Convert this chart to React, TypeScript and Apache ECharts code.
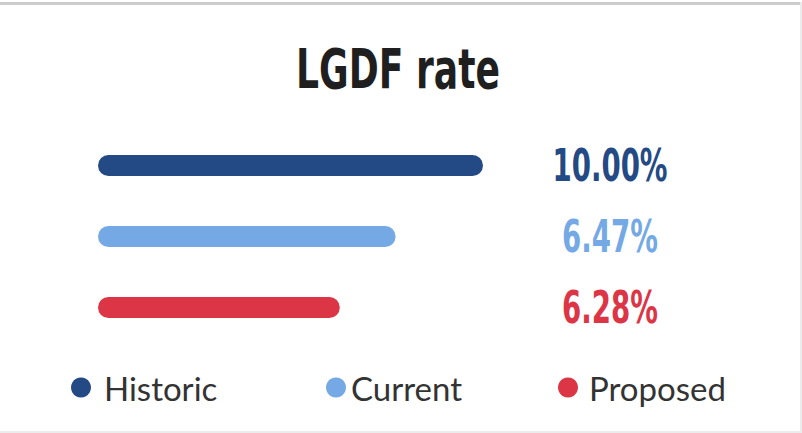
import React, { useEffect, useRef } from 'react';
import * as echarts from 'echarts';

const titleText = 'LGDF rate';
const categories = ['Historic', 'Current', 'Proposed'];
// bar lengths as drawn in the picture, on a 0–10 scale
const barValues = [10, 7.73, 6.28];
// printed rate labels
const rateLabels = ['10.00%', '6.47%', '6.28%'];
const colors = ['#234a84', '#74a9e5', '#dc3546'];

const TITLE_FONT = 'bold 56px "DejaVu Sans Condensed", "DejaVu Sans", sans-serif';
const LABEL_FONT = 'bold 44px "DejaVu Sans Condensed", "DejaVu Sans", sans-serif';

function measure(text: string, font: string): number {
  const ctx = document.createElement('canvas').getContext('2d');
  if (!ctx) return text.length * 20;
  ctx.font = font;
  return ctx.measureText(text).width;
}

export default function App() {
  const ref = useRef<HTMLDivElement>(null);
  useEffect(() => {
    if (!ref.current) return;
    const chart = echarts.init(ref.current, null, { renderer: 'svg' });
    const titleScale = 204 / measure(titleText, TITLE_FONT);
    const labelScale = 115 / measure(rateLabels[0], LABEL_FONT);

    const series: any[] = categories.map((name, i) => ({
      name,
      type: 'bar',
      stack: 'rate',
      barWidth: 21,
      itemStyle: { color: colors[i], borderRadius: 10.5 },
      data: categories.map((_, j) => (j === i ? barValues[i] : '-')),
      silent: true,
    }));
    series.push({
      name: 'labels',
      type: 'custom',
      silent: true,
      data: rateLabels.map((_, i) => [0, i]),
      encode: { x: 0, y: 1 },
      renderItem: (params: any, api: any) => {
        const idx = api.value(1);
        const y = api.coord([0, idx])[1];
        const cs = params.coordSys;
        return {
          type: 'text',
          x: cs.x + cs.width + 127,
          y,
          scaleX: labelScale,
          style: {
            text: rateLabels[idx],
            font: LABEL_FONT,
            fill: colors[idx],
            textAlign: 'center',
            textVerticalAlign: 'middle',
          },
        };
      },
    });

    const legendLefts = [71, 326, 558];
    const legendPads = [8, 0, 6];
    const legend = categories.map((name, i) => ({
      data: [name],
      left: legendLefts[i],
      top: 371,
      padding: 0,
      icon: 'circle',
      itemWidth: 20,
      itemHeight: 20,
      selectedMode: false,
      textStyle: {
        fontFamily: 'Lato',
        fontSize: 33,
        color: '#333333',
        lineHeight: 20,
        padding: [0, 0, 12, legendPads[i]],
      },
    }));

    chart.setOption({
      animation: false,
      backgroundColor: '#ffffff',
      grid: { left: 98, right: 319, top: 130, height: 213 },
      xAxis: { type: 'value', min: 0, max: 10, show: false },
      yAxis: { type: 'category', data: categories, inverse: true, show: false },
      legend,
      series,
      graphic: [
        { type: 'rect', shape: { x: 0, y: 2, width: 802, height: 3 }, style: { fill: '#cdcdcd' }, silent: true },
        { type: 'rect', shape: { x: 800, y: 2, width: 2, height: 431 }, style: { fill: '#ececec' }, silent: true },
        { type: 'rect', shape: { x: 0, y: 431, width: 802, height: 2 }, style: { fill: '#ececec' }, silent: true },
        {
          type: 'text',
          x: 398,
          y: 68,
          scaleX: titleScale,
          style: {
            text: titleText,
            font: TITLE_FONT,
            fill: '#1f1f1f',
            textAlign: 'center',
            textVerticalAlign: 'middle',
          },
        },
      ],
    });
    return () => chart.dispose();
  }, []);
  return (
    <div
      ref={ref}
      style={{ position: 'fixed', left: 0, top: 0, width: 802, height: 433 }}
    />
  );
}
